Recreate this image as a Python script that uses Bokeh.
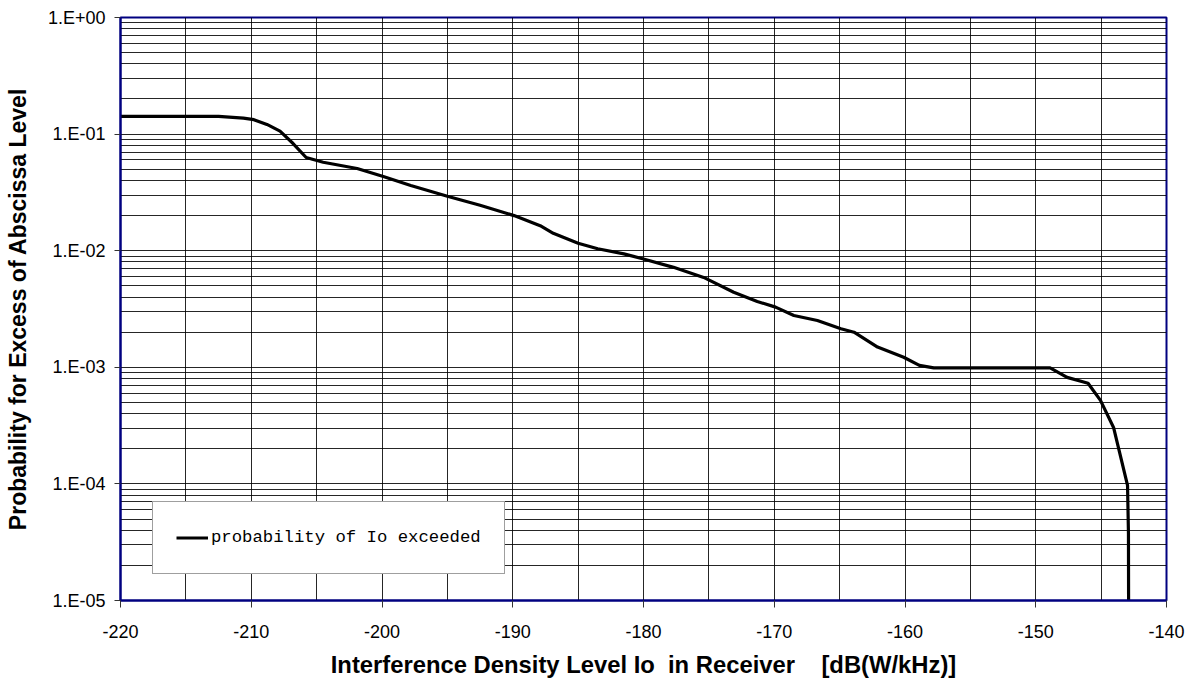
from bokeh.plotting import figure
from bokeh.models import (Range1d, FixedTicker, CustomJSTickFormatter, Legend, LegendItem)
from bokeh.embed import file_html
from bokeh.resources import INLINE

# Data
x_level = [-220.0, -212.5, -210.6, -209.8, -208.8, -207.8, -206.8, -205.8, -204.5,
           -201.9, -199.9, -197.8, -195.0, -192.5, -189.9, -187.9, -186.9, -185.0,
           -183.5, -181.5, -180.0, -177.7, -175.4, -173.1, -171.3, -169.9, -168.5,
           -166.7, -164.9, -163.9, -162.1, -160.1, -158.9, -157.8, -148.9, -147.6,
           -146.0, -145.05, -144.05, -142.98, -142.91, -142.9]
probability = [0.142, 0.142, 0.137, 0.133, 0.121, 0.106, 0.083, 0.063, 0.0574,
               0.0507, 0.0433, 0.0362, 0.0293, 0.0245, 0.0200, 0.0164, 0.0141, 0.0116,
               0.0104, 0.0094, 0.0085, 0.0072, 0.0059, 0.0044, 0.00367, 0.00328, 0.00278,
               0.00252, 0.00214, 0.0020, 0.00149, 0.00122, 0.00104, 0.00099, 0.00099, 0.00082,
               0.00073, 0.00052, 0.000305, 0.000097, 0.0000375, 0.00001]

x_ticks = [-220, -210, -200, -190, -180, -170, -160, -150, -140]
x_grid = [-220 + 5 * i for i in range(17)]
y_decades = [1e-5, 1e-4, 1e-3, 1e-2, 1e-1, 1e0]
y_grid = [m * d for d in y_decades[:-1] for m in range(1, 10)] + [1.0]

legend_label = "probability of Io exceeded"
x_title = "Interference Density Level Io\u00a0 in Receiver\u00a0\u00a0\u00a0 [dB(W/kHz)]"
y_title = "Probability for Excess of Abscissa Level"

p = figure(width=1190, height=683, y_axis_type="log",
           x_range=Range1d(-220, -140), y_range=Range1d(1e-5, 1.0),
           output_backend="svg", toolbar_location=None,
           min_border_left=120, min_border_right=24, min_border_top=17,
           min_border_bottom=83)

p.background_fill_color = "white"
p.border_fill_color = "white"
p.outline_line_color = "#000080"
p.outline_line_width = 2

r = p.line(x_level, probability, line_color="black", line_width=3.2)

# axes
for ax in (p.xaxis[0], p.yaxis[0]):
    ax.axis_line_color = "#000080"
    ax.axis_line_width = 2
    ax.major_tick_line_color = "#333333"
    ax.major_tick_in = 0
    ax.minor_tick_line_color = None
    ax.major_label_text_color = "black"
    ax.major_label_text_font = "Liberation Sans"
    ax.major_label_text_font_size = "18px"
    ax.axis_label_text_font = "Liberation Sans"
    ax.axis_label_text_font_style = "bold"
    ax.axis_label_text_font_size = "23px"
    ax.axis_label_text_color = "black"

p.xaxis.ticker = FixedTicker(ticks=x_ticks)
p.xaxis.formatter = CustomJSTickFormatter(code="return tick.toFixed(0);")
p.xaxis.major_tick_out = 7
p.xaxis.major_label_standoff = 17
p.xaxis.axis_label = x_title
p.xaxis.axis_label_text_font_size = "23.8px"
p.xaxis.axis_label_standoff = 10

p.yaxis.ticker = FixedTicker(ticks=y_decades)
p.yaxis.major_tick_out = 6
p.yaxis.major_label_standoff = 9
p.yaxis.formatter = CustomJSTickFormatter(code="""
const e = Math.round(Math.log10(tick));
return '1.E' + (e < 0 ? '-' : '+') + String(Math.abs(e)).padStart(2, '0');
""")
p.yaxis.axis_label = y_title
p.yaxis.axis_label_standoff = 14

# grids
p.xgrid.ticker = FixedTicker(ticks=x_grid)
p.ygrid.ticker = FixedTicker(ticks=y_grid)
for g in (p.xgrid[0], p.ygrid[0]):
    g.grid_line_color = "black"
    g.grid_line_alpha = 0.85
    g.grid_line_width = 1

legend = Legend(items=[LegendItem(label=legend_label, renderers=[r])],
                location=(32, 26))
legend.label_text_font = "Liberation Mono"
legend.label_text_font_size = "17.3px"
legend.label_text_color = "black"
legend.glyph_width = 32
legend.label_standoff = 3
legend.label_height = 25
legend.glyph_height = 25
legend.padding = 23
legend.margin = 0
legend.border_line_color = "#404040"
legend.border_line_width = 1
legend.background_fill_color = "white"
legend.background_fill_alpha = 1.0
p.add_layout(legend)

open("out.html", "w").write(file_html(p, INLINE))
